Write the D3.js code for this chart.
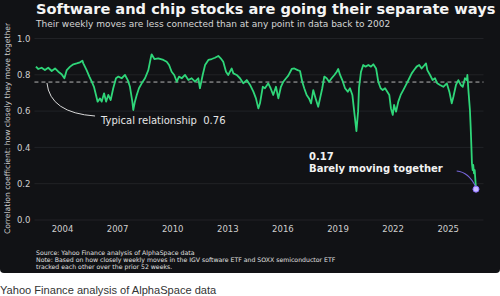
<!DOCTYPE html>
<html>
<head>
<meta charset="utf-8">
<script src="https://cdn.jsdelivr.net/npm/d3@7"></script>
<style>
  body { margin: 0; background: #fff; }
  svg { display: block; }
</style>
</head>
<body>
<svg id="chart"></svg>
<script>
const width = 500;
const height = 296;

// weekly correlation (decimal years)
const years = [
  2002.58, 2002.71, 2002.89, 2003.07, 2003.25, 2003.44, 2003.62, 2003.80, 2003.98, 2004.13,
  2004.26, 2004.44, 2004.62, 2004.80, 2004.98, 2005.11, 2005.16, 2005.34, 2005.49, 2005.62,
  2005.74, 2005.85, 2005.94, 2006.07, 2006.16, 2006.29, 2006.40, 2006.52, 2006.65, 2006.79,
  2006.94, 2007.07, 2007.25, 2007.43, 2007.58, 2007.70, 2007.83, 2007.88, 2007.97, 2008.07,
  2008.19, 2008.34, 2008.52, 2008.70, 2008.83, 2008.88, 2009.03, 2009.24, 2009.52, 2009.70,
  2009.83, 2009.97, 2010.11, 2010.25, 2010.37, 2010.52, 2010.70, 2010.88, 2011.06, 2011.24,
  2011.42, 2011.51, 2011.66, 2011.79, 2011.97, 2012.15, 2012.33, 2012.51, 2012.64, 2012.78,
  2012.93, 2013.05, 2013.24, 2013.33, 2013.51, 2013.69, 2013.87, 2014.06, 2014.24, 2014.42,
  2014.56, 2014.69, 2014.78, 2014.93, 2015.05, 2015.23, 2015.36, 2015.50, 2015.65, 2015.78,
  2015.92, 2016.05, 2016.20, 2016.32, 2016.51, 2016.65, 2016.83, 2016.96, 2017.08, 2017.19,
  2017.32, 2017.45, 2017.56, 2017.68, 2017.81, 2017.95, 2018.05, 2018.17, 2018.28, 2018.41,
  2018.54, 2018.68, 2018.83, 2018.96, 2019.04, 2019.14, 2019.26, 2019.41, 2019.56, 2019.68,
  2019.81, 2019.91, 2020.03, 2020.12, 2020.17, 2020.28, 2020.40, 2020.53, 2020.68, 2020.82,
  2020.95, 2021.10, 2021.22, 2021.35, 2021.46, 2021.59, 2021.71, 2021.82, 2021.91, 2022.01,
  2022.08, 2022.19, 2022.31, 2022.44, 2022.58, 2022.77, 2022.91, 2023.04, 2023.17, 2023.31,
  2023.45, 2023.58, 2023.71, 2023.82, 2023.89, 2024.04, 2024.18, 2024.31, 2024.43, 2024.58,
  2024.76, 2024.95, 2025.09, 2025.22, 2025.31, 2025.45, 2025.58, 2025.71, 2025.82, 2025.94,
  2026.04, 2026.07, 2026.14, 2026.21, 2026.25, 2026.29, 2026.32, 2026.36, 2026.39, 2026.43,
  2026.47, 2026.54
];
const corr = [
  0.845, 0.832, 0.839, 0.826, 0.839, 0.821, 0.835, 0.817, 0.803, 0.781,
  0.826, 0.845, 0.858, 0.863, 0.869, 0.878, 0.863, 0.826, 0.790, 0.762,
  0.734, 0.689, 0.652, 0.670, 0.652, 0.698, 0.652, 0.689, 0.661, 0.726,
  0.781, 0.790, 0.781, 0.799, 0.771, 0.734, 0.652, 0.606, 0.652, 0.689,
  0.726, 0.753, 0.781, 0.826, 0.891, 0.913, 0.887, 0.891, 0.882, 0.872,
  0.854, 0.817, 0.799, 0.762, 0.790, 0.781, 0.799, 0.771, 0.781, 0.762,
  0.781, 0.726, 0.799, 0.854, 0.882, 0.887, 0.894, 0.904, 0.891, 0.872,
  0.817, 0.799, 0.835, 0.808, 0.799, 0.781, 0.753, 0.771, 0.744, 0.707,
  0.670, 0.615, 0.643, 0.734, 0.726, 0.753, 0.726, 0.689, 0.734, 0.670,
  0.734, 0.762, 0.781, 0.795, 0.832, 0.835, 0.826, 0.821, 0.762, 0.726,
  0.689, 0.670, 0.643, 0.716, 0.670, 0.624, 0.670, 0.726, 0.790, 0.781,
  0.762, 0.781, 0.799, 0.817, 0.832, 0.799, 0.771, 0.726, 0.707, 0.726,
  0.689, 0.597, 0.490, 0.597, 0.726, 0.817, 0.854, 0.845, 0.854, 0.845,
  0.858, 0.835, 0.762, 0.726, 0.716, 0.726, 0.707, 0.689, 0.615, 0.579,
  0.634, 0.597, 0.652, 0.689, 0.716, 0.753, 0.781, 0.808, 0.826, 0.845,
  0.854, 0.835, 0.850, 0.863, 0.826, 0.799, 0.771, 0.781, 0.753, 0.744,
  0.734, 0.753, 0.707, 0.643, 0.679, 0.744, 0.771, 0.744, 0.734, 0.781,
  0.771, 0.799, 0.698, 0.606, 0.514, 0.404, 0.312, 0.275, 0.303, 0.257,
  0.275, 0.170
];
const yTicks = [0, 0.2, 0.4, 0.6, 0.8, 1.0];
const xTicks = [2004, 2007, 2010, 2013, 2016, 2019, 2022, 2025];
const typical = 0.76;
const latest = { year: 2026.54, value: 0.17 };

const titleText = "Software and chip stocks are going their separate ways";
const subtitleText = "Their weekly moves are less connected than at any point in data back to 2002";
const yLabelText = "Correlation coefficient: how closely they move together";
const notes = [
  "Source: Yahoo Finance analysis of AlphaSpace data",
  "Note: Based on how closely weekly moves in the IGV software ETF and SOXX semiconductor ETF",
  "tracked each other over the prior 52 weeks."
];
const captionText = "Yahoo Finance analysis of AlphaSpace data";

const data = years.map((y, i) => ({ year: y, value: corr[i] }));

const svg = d3.select("#chart")
  .attr("width", width)
  .attr("height", height)
  .style("font-family", "'DejaVu Sans', sans-serif");

// dark card
svg.append("path")
  .attr("d", "M0,-6 H500 V269 Q500,273 496,273 H4 Q0,273 0,269 Z")
  .attr("fill", "#111215");

const x = d3.scaleLinear().domain([2004, 2025]).range([62, 447.7]);
const y = d3.scaleLinear().domain([0, 1]).range([220, 38.5]);
const gridX = [x(2002.5), x(2026.95)];

// grid
svg.append("g")
  .selectAll("line")
  .data(yTicks)
  .join("line")
  .attr("x1", gridX[0])
  .attr("x2", gridX[1])
  .attr("y1", d => y(d))
  .attr("y2", d => y(d))
  .attr("stroke", "#26272b")
  .attr("stroke-width", 0.8);

// y axis
const yAxis = svg.append("g")
  .attr("transform", "translate(" + gridX[0] + ",0)")
  .call(d3.axisLeft(y).tickValues(yTicks).tickFormat(d3.format(".1f")).tickSize(0).tickPadding(4));
yAxis.select(".domain").remove();
yAxis.selectAll("text")
  .attr("fill", "#cfcfcf")
  .style("font-size", "8.5px")
  .style("font-family", "'DejaVu Sans', sans-serif");

// x axis
const xAxis = svg.append("g")
  .attr("transform", "translate(0," + y(0) + ")")
  .call(d3.axisBottom(x).tickValues(xTicks).tickFormat(d3.format("d")).tickSize(0).tickPadding(6));
xAxis.select(".domain").remove();
xAxis.selectAll("text")
  .attr("fill", "#cfcfcf")
  .style("font-size", "8.5px")
  .style("font-family", "'DejaVu Sans', sans-serif");

// typical line
svg.append("line")
  .attr("x1", gridX[0])
  .attr("x2", gridX[1])
  .attr("y1", y(typical))
  .attr("y2", y(typical))
  .attr("stroke", "#b5b5b5")
  .attr("stroke-width", 1)
  .attr("stroke-dasharray", "4,3");

// the series
const line = d3.line()
  .x(d => x(d.year))
  .y(d => y(d.value));

svg.append("path")
  .datum(data)
  .attr("d", line)
  .attr("fill", "none")
  .attr("stroke", "#2fd679")
  .attr("stroke-width", 1.8)
  .attr("stroke-linejoin", "round");

// annotation: typical relationship
const tStart = [x(2003.18), y(0.755)];
const tEnd = [x(2005.8), y(0.573)];
svg.append("path")
  .attr("d", "M" + tStart + " Q" + [x(2003.35), y(0.59)] + " " + tEnd)
  .attr("fill", "none")
  .attr("stroke", "#d8d8d8")
  .attr("stroke-width", 1);
svg.append("text")
  .attr("x", x(2006.12))
  .attr("y", y(0.53))
  .attr("fill", "#e6e6e6")
  .style("font-size", "10px")
  .attr("xml:space", "preserve")
  .text("Typical relationship  " + typical.toFixed(2));

// annotation: latest value
const lStart = [x(2025.49), y(0.27)];
const lEnd = [x(latest.year), y(latest.value) - 2];
svg.append("path")
  .attr("d", "M" + lStart + " Q" + [x(2026.14), y(0.265)] + " " + lEnd)
  .attr("fill", "none")
  .attr("stroke", "#7665d9")
  .attr("stroke-width", 1.2);
svg.append("circle")
  .attr("cx", x(latest.year))
  .attr("cy", y(latest.value))
  .attr("r", 3)
  .attr("fill", "#c9bcff")
  .attr("stroke", "#8a6cff")
  .attr("stroke-width", 1);

const lt = svg.append("text")
  .attr("x", x(2017.45))
  .attr("y", y(0.328))
  .attr("fill", "#f2f2f2")
  .style("font-size", "10px")
  .style("font-weight", "bold");
lt.append("tspan").text(latest.value.toFixed(2));
lt.append("tspan").attr("x", x(2017.45)).attr("dy", 12).text("Barely moving together");

// title & subtitle
svg.append("text")
  .attr("x", 36)
  .attr("y", 14)
  .attr("fill", "#f4f4f4")
  .style("font-size", "14.6px")
  .style("font-weight", "bold")
  .text(titleText);
svg.append("text")
  .attr("x", 36)
  .attr("y", 27)
  .attr("fill", "#d6d6d6")
  .style("font-size", "9px")
  .text(subtitleText);

// y label
svg.append("text")
  .attr("transform", "translate(9.5," + ((20 + 237) / 2) + ") rotate(-90)")
  .attr("text-anchor", "middle")
  .attr("fill", "#cfcfcf")
  .style("font-size", "7.6px")
  .text(yLabelText);

// notes
svg.append("g")
  .selectAll("text")
  .data(notes)
  .join("text")
  .attr("x", 36)
  .attr("y", (d, i) => 255 + i * 6.9)
  .attr("fill", "#e0e0e0")
  .style("font-size", "6.2px")
  .text(d => d);

// caption below the card
svg.append("text")
  .attr("x", 0)
  .attr("y", 294)
  .attr("fill", "#333")
  .style("font-family", "'Liberation Sans', Arial, sans-serif")
  .style("font-size", "11.1px")
  .text(captionText);
</script>
</body>
</html>
